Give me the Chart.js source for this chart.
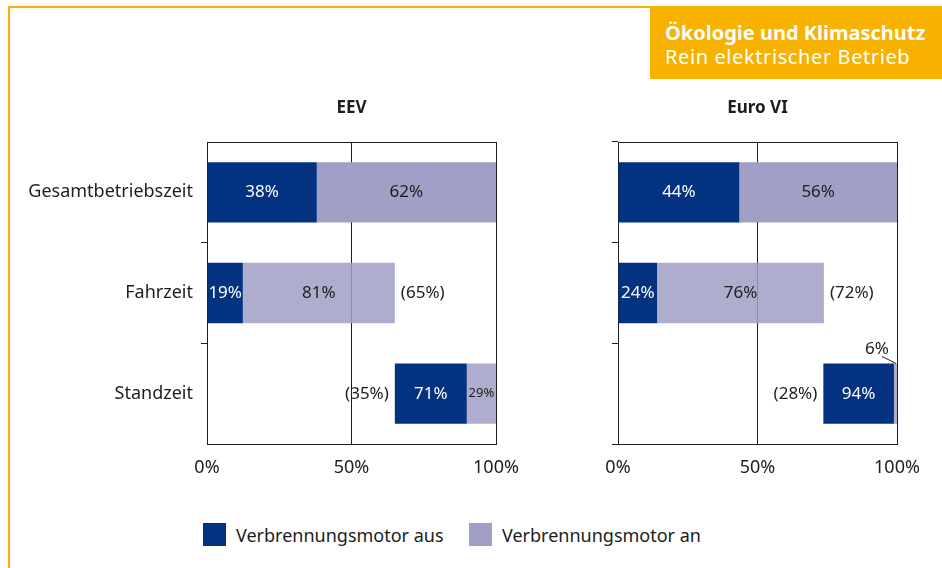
<!DOCTYPE html>
<html lang="de">
<head>
<meta charset="UTF-8">
<title>Ökologie und Klimaschutz – Rein elektrischer Betrieb</title>
<script src="https://cdn.jsdelivr.net/npm/chart.js"></script>
<style>
  body { margin: 0; background: #fff; font-family: "Noto Sans", sans-serif; color: #1d1d1b; }
  #page { position: relative; width: 942px; height: 568px; overflow: hidden; }
  .frame-top { position: absolute; left: 8px; top: 6px; width: 934px; height: 2px; background: #F7B200; }
  .frame-left { position: absolute; left: 8px; top: 6px; width: 2px; height: 562px; background: #F7B200; }
  .badge { position: absolute; left: 650px; top: 6px; width: 292px; height: 73px; background: #F7B200; color: #fff;
           box-sizing: border-box; padding: 15px 0 0 15px; font-size: 20px; line-height: 24px; white-space: nowrap; }
  .badge b { font-weight: 700; }
  .badge .sub { letter-spacing: 0.6px; }
  canvas { position: absolute; top: 85px; }
  #eev { left: 10px; }
  #euro { left: 540px; }
  .legend { position: absolute; top: 523px; height: 24px; font-size: 18px; line-height: 24px; white-space: nowrap; }
  .legend span { display: inline-block; width: 23px; height: 23px; vertical-align: top; margin-right: 10px; }
</style>
</head>
<body>
<div id="page">
  <div class="frame-top"></div>
  <div class="frame-left"></div>
  <div class="badge"><b>Ökologie und Klimaschutz</b><br><span class="sub">Rein elektrischer Betrieb</span></div>

  <canvas id="eev" width="530" height="400"></canvas>
  <canvas id="euro" width="400" height="400"></canvas>

  <div class="legend" style="left:203px"><span style="background:#033280"></span>Verbrennungsmotor aus</div>
  <div class="legend" style="left:469px"><span style="background:#A29FC6"></span>Verbrennungsmotor an</div>
</div>

<script>
// categories and tick values
const categories = ['Gesamtbetriebszeit', 'Fahrzeit', 'Standzeit'];
const xTicks = [0, 50, 100];

// EEV: [start, end] of each segment on the 0-100 % axis
const eevAus = [[0, 38], [0, 12.4], [65, 89.9]];
const eevAn = [[38, 100], [12.4, 65], [89.9, 100]];
const eevAusText = ['38%', '19%', '71%'];
const eevAnText = ['62%', '81%', '29%'];
const eevShare = ['', '(65%)', '(35%)'];

// Euro VI
const euroAus = [[0, 43.5], [0, 14], [73.6, 98.9]];
const euroAn = [[43.5, 100], [14, 73.8], [98.9, 100]];
const euroAusText = ['44%', '24%', '94%'];
const euroAnText = ['56%', '76%', '6%'];
const euroShare = ['', '(72%)', '(28%)'];

const dark = '#033280';
const lightBars = ['#A29FC6', 'rgba(162,159,198,0.86)', 'rgba(162,159,198,0.86)'];
const ink = '#1d1d1b';

// in-bar percentages, shares, panel title and the top edge of the frame
const panelLabels = {
  id: 'panelLabels',
  afterDatasetsDraw(chart, args, opts) {
    const { ctx, chartArea: a } = chart;
    const aus = chart.getDatasetMeta(0).data;
    const an = chart.getDatasetMeta(1).data;
    ctx.save();
    ctx.strokeStyle = ink;
    ctx.lineWidth = 1;
    ctx.beginPath();
    ctx.moveTo(a.left, Math.round(a.top) + 0.5);
    ctx.lineTo(a.right + 0.5, Math.round(a.top) + 0.5);
    ctx.stroke();

    ctx.textBaseline = 'middle';
    ctx.textAlign = 'center';
    ctx.fillStyle = ink;
    ctx.font = 'bold 17px "Noto Sans"';
    ctx.fillText(opts.title, (a.left + a.right) / 2, a.top - 34);

    ctx.font = '17px "Noto Sans"';
    aus.forEach((bar, i) => {
      const y = bar.y;
      ctx.textAlign = 'center';
      ctx.fillStyle = '#fff';
      ctx.fillText(opts.ausText[i], (bar.x + bar.base) / 2, y);

      const b = an[i];
      const w = Math.abs(b.x - b.base);
      ctx.fillStyle = ink;
      if (w > 40) {
        ctx.fillText(opts.anText[i], (b.x + b.base) / 2, y);
      } else if (w > 12) {
        ctx.font = '13px "Noto Sans"';
        ctx.fillText(opts.anText[i], (b.x + b.base) / 2, y);
        ctx.font = '17px "Noto Sans"';
      } else {
        // too thin: label above with a short leader line
        const top = y - b.height / 2;
        ctx.fillText(opts.anText[i], b.x - 20, top - 14);
        ctx.beginPath();
        ctx.moveTo(b.x - 15, top - 7);
        ctx.lineTo(b.x - 1, top);
        ctx.stroke();
      }

      const share = opts.share[i];
      if (share) {
        if (bar.base <= a.left + 1) {
          ctx.textAlign = 'left';
          ctx.fillText(share, b.x + 6, y);
        } else {
          ctx.textAlign = 'right';
          ctx.fillText(share, bar.base - 6, y);
        }
      }
    });
    ctx.restore();
  }
};

function makePanel(id, ausData, anData, opts) {
  return new Chart(document.getElementById(id), {
    type: 'bar',
    data: {
      labels: categories,
      datasets: [
        { label: 'Verbrennungsmotor aus', data: ausData, backgroundColor: dark, grouped: false },
        { label: 'Verbrennungsmotor an', data: anData, backgroundColor: lightBars, grouped: false }
      ]
    },
    options: {
      indexAxis: 'y',
      responsive: false,
      animation: false,
      barPercentage: 0.6,
      categoryPercentage: 1,
      layout: { padding: { top: 57, right: opts.padRight, left: 0, bottom: 0 } },
      scales: {
        x: {
          min: 0,
          max: 100,
          afterBuildTicks: s => { s.ticks = xTicks.map(v => ({ value: v })); },
          afterFit: s => { s.height = 41; },
          grid: { color: ink, lineWidth: 1, drawTicks: false },
          border: { display: true, color: ink, width: 1 },
          ticks: {
            padding: 13,
            color: ink,
            font: { family: 'Noto Sans', size: 18 },
            maxRotation: 0,
            callback: v => v + '%'
          }
        },
        y: {
          afterFit: s => { s.width = opts.yWidth; },
          grid: {
            display: true, drawOnChartArea: false, drawTicks: true, tickLength: 6, color: ink, offset: true,
            // EEV has no tick marks at the outer corners, Euro VI does
            tickColor: c => (opts.outerTicks || c.index === 1 || c.index === 2) ? ink : 'rgba(0,0,0,0)'
          },
          border: { display: true, color: ink, width: 1 },
          ticks: {
            display: opts.showCats,
            padding: 8,
            color: ink,
            font: { family: 'Noto Sans', size: 18 }
          }
        }
      },
      plugins: {
        legend: { display: false },
        tooltip: { enabled: false },
        panelLabels: opts
      }
    },
    plugins: [panelLabels]
  });
}

makePanel('eev', eevAus, eevAn, {
  title: 'EEV', ausText: eevAusText, anText: eevAnText, share: eevShare,
  yWidth: 197, padRight: 44, showCats: true, outerTicks: false
});

makePanel('euro', euroAus, euroAn, {
  title: 'Euro VI', ausText: euroAusText, anText: euroAnText, share: euroShare,
  yWidth: 78, padRight: 43, showCats: false, outerTicks: true
});
</script>
</body>
</html>
